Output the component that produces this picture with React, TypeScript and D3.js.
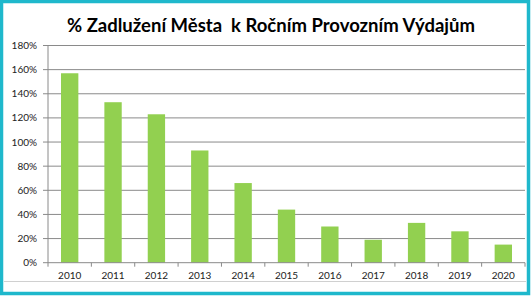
import React from "react";
import * as d3 from "d3";

const years = ["2010","2011","2012","2013","2014","2015","2016","2017","2018","2019","2020"];
const values = [157, 133, 123, 93, 66, 44, 30, 19, 33, 26, 15];
const yTicks = [0, 20, 40, 60, 80, 100, 120, 140, 160, 180];
const title = "% Zadlužení Města  k Ročním Provozním Výdajům";

export default function App() {
  const W = 531, H = 297;
  const left = 48, right = 525, top = 45.5, bottom = 262.7;
  const x = d3.scaleBand<string>().domain(years).range([left, right]).paddingInner(0.6).paddingOuter(0.3);
  const xb = d3.scaleBand<string>().domain(years).range([left, right]);
  const y = d3.scaleLinear().domain([0, 180]).range([bottom, top]);
  const font = "Lato, 'Open Sans', sans-serif";
  return (
    <svg width={W} height={H} style={{ position: "absolute", left: 0, top: 0 }}>
      <rect x={0} y={0} width={W} height={H} fill="#fff" />
      <text x={271} y={32} textAnchor="middle" fontFamily={font} fontWeight="bold" fontSize={18.5} fill="#000" style={{ whiteSpace: "pre" }}>{title}</text>
      {yTicks.map(t => (
        <g key={t}>
          {t > 0 && <line x1={left} x2={right} y1={y(t)} y2={y(t)} stroke="#8a8a8a" strokeWidth={1} />}
          <line x1={left - 5} x2={left} y1={y(t)} y2={y(t)} stroke="#8a8a8a" strokeWidth={1} />
          <text x={37} y={y(t) + 3.5} textAnchor="end" fontFamily={font} fontSize={10} fill="#222">{t}%</text>
        </g>
      ))}
      <line x1={left} x2={left} y1={top} y2={bottom} stroke="#8a8a8a" strokeWidth={1} />
      {values.map((v, i) => (
        <rect key={years[i]} x={x(years[i])} width={x.bandwidth()} y={y(v)} height={y(0) - y(v)} fill="#92d050" />
      ))}
      <line x1={left} x2={right} y1={bottom} y2={bottom} stroke="#8a8a8a" strokeWidth={1} />
      {years.map(yr => (
        <g key={yr}>
          <line x1={(xb(yr) as number) + xb.bandwidth()} x2={(xb(yr) as number) + xb.bandwidth()} y1={bottom} y2={bottom + 4} stroke="#8a8a8a" />
          <text x={(xb(yr) as number) + xb.bandwidth() / 2} y={279} textAnchor="middle" fontFamily={font} fontSize={10} fill="#222">{yr}</text>
        </g>
      ))}
      <line x1={left} x2={left} y1={bottom} y2={bottom + 4} stroke="#8a8a8a" />
      <line x1={4} x2={526} y1={281.5} y2={281.5} stroke="#d0d0d0" strokeWidth={1} />
      <rect x={1.5} y={1.5} width={527} height={292} fill="none" stroke="#1fb8cc" strokeWidth={3.5} />
    </svg>
  );
}
